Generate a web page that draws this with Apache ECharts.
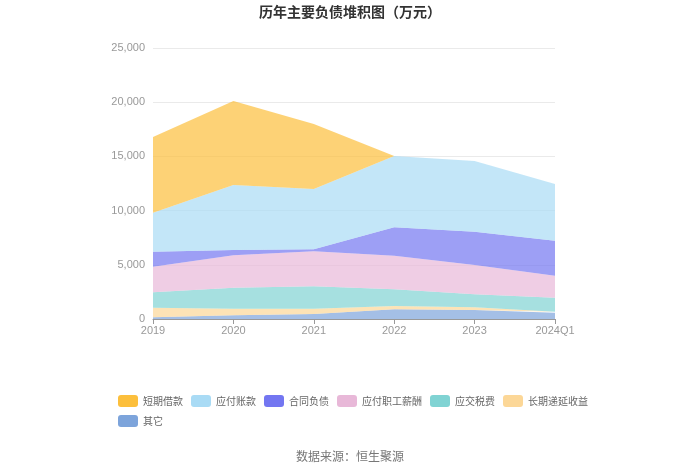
<!DOCTYPE html>
<html><head><meta charset="utf-8">
<script src="https://cdn.jsdelivr.net/npm/echarts@6/dist/echarts.min.js"></script>
<style>html,body{margin:0;padding:0;background:#fff}#c{width:700px;height:473px}</style>
</head><body><div id="c"></div>
<script>
const categories = ['2019','2020','2021','2022','2023','2024Q1'];
const seriesNames = ['短期借款','应付账款','合同负债','应付职工薪酬','应交税费','长期递延收益','其它'];
const shortLoans   = [7000, 7740, 6000, 0, 0, 0];
const payables     = [3590, 5990, 5570, 6580, 6530, 5230];
const contractLiab = [1390, 490, 180, 2620, 3070, 3220];
const staffPay     = [2360, 2990, 3230, 3100, 2700, 2040];
const taxPay       = [1420, 1940, 2070, 1540, 1200, 1290];
const deferredInc  = [890, 610, 490, 300, 250, 90];
const others       = [150, 340, 460, 900, 830, 580];
const yTicks = [0, 5000, 10000, 15000, 20000, 25000];

const colors = ['#fcbf3c','#a9dbf5','#7376f1','#e8b8d8','#80d3d3','#fcd797','#7da4db'];
const dataSets = [shortLoans, payables, contractLiab, staffPay, taxPay, deferredInc, others];
// stack order: bottom first
const order = [6,5,4,3,2,1,0];
const series = order.map(i => ({
  name: seriesNames[i], type: 'line', stack: 'total', data: dataSets[i],
  symbol: 'none', smooth: false, lineStyle: {width: 0},
  itemStyle: {color: colors[i]},
  areaStyle: {color: colors[i], opacity: 0.7}
}));
const chart = echarts.init(document.getElementById('c'));
chart.setOption({
  animation: false,
  title: {text: '历年主要负债堆积图（万元）', left: 'center', top: 0,
    textStyle: {fontSize: 14, fontWeight: 'bold', color: '#333', fontFamily: 'Noto Sans CJK SC'}},
  grid: {left: 153, right: 145, top: 48, bottom: 154},
  legend: {data: seriesNames, left: 113, top: 390, width: 480, itemWidth: 20, itemHeight: 12,
    itemGap: 8, icon: 'roundRect',
    textStyle: {color: '#666', fontSize: 10, fontFamily: 'Noto Sans CJK SC'}},
  xAxis: {type: 'category', data: categories, boundaryGap: false,
    axisLine: {lineStyle: {color: '#999'}}, axisTick: {lineStyle: {color: '#999'}},
    axisLabel: {color: '#999', fontSize: 11, margin: 6}},
  yAxis: {type: 'value', min: yTicks[0], max: yTicks[yTicks.length-1], interval: 5000,
    axisLine: {show: false}, axisTick: {show: false},
    splitLine: {lineStyle: {color: '#eaeaea'}},
    axisLabel: {color: '#999', fontSize: 11, formatter: v => v.toLocaleString('en-US')}},
  graphic: [{type: 'text', left: 'center', top: 450,
    style: {text: '数据来源：恒生聚源', fill: '#777', fontSize: 12, fontFamily: 'Noto Sans CJK SC'}}],
  series: series
});
</script></body></html>
